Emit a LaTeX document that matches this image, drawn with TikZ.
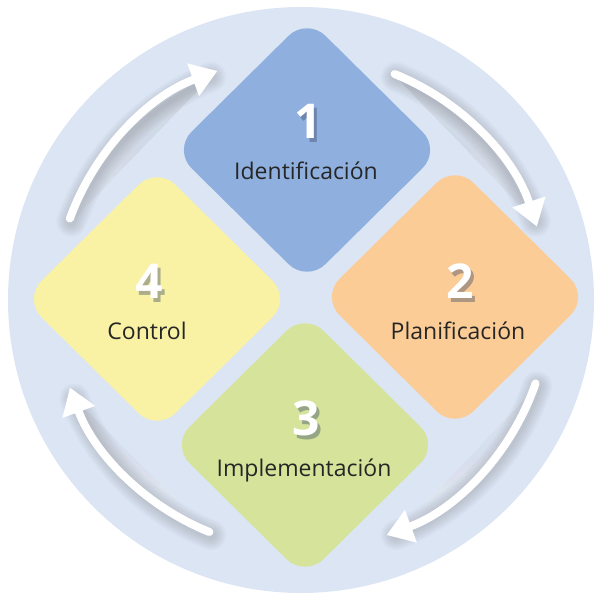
\documentclass[tikz,border=0pt]{standalone}
\usepackage{fontspec}
\setmainfont{Open Sans}
\usepackage{xcolor}
\usetikzlibrary{arrows.meta,shapes.geometric}

\definecolor{ringblue}{RGB}{220,229,243}
\definecolor{stepblue}{RGB}{143,176,222}
\definecolor{steporange}{RGB}{251,204,150}
\definecolor{stepgreen}{RGB}{214,228,155}
\definecolor{stepyellow}{RGB}{249,242,165}
\definecolor{shade}{RGB}{55,70,100}

% white digit with a dark shadow behind it
\newcommand\shadednum[2]{%
    \makebox[0pt][l]{\hspace{3.5pt}\raisebox{-4pt}{\textcolor{#2!60!shade}{#1}}}%
    #1}

\tikzset{
    stepshape/.style={diamond, minimum width=268pt, minimum height=265pt, inner sep=0pt, rounded corners=26pt, fill=#1},
    numtext/.style={text=white, anchor=base, font=\fontsize{48}{50}\selectfont\bfseries},
    labtext/.style={text=black!85, anchor=base, font=\fontsize{23}{27}\selectfont},
    cyclearrow/.style={white, line width=8pt, line cap=round, -{Triangle[length=26pt,width=33pt]}},
    arrowshade/.style={shade, opacity=0.025, line cap=round}
}

\begin{document}
\begin{tikzpicture}[x=1pt,y=-1pt]
    \useasboundingbox (0,0) rectangle (594,601);

    % background disc
    \fill[ringblue] (301,300) circle (293pt);
    \coordinate (c) at (302,303);

    % soft shadows under the cycle arrows
    \foreach \a/\b in {160/112, 68/20, -19/-68, -112/-158} {
        \foreach \w in {30,26,22,18,14,10}
            \draw[arrowshade, line width=\w pt] ([shift={(1.5pt,-3pt)}]c) ++(\a:247pt) arc[start angle=\a, end angle=\b, radius=247pt];
    }

    % cycle arrows
    \foreach \a/\b in {160/110, 68/18, -19/-70, -112/-160}
        \draw[cyclearrow] (c) ++(\a:247pt) arc[start angle=\a, end angle=\b, radius=247pt];

    % the four steps
    \foreach \n/\x/\y/\col in {1/307/150/stepblue, 2/455/297/steporange, 3/305/445/stepgreen, 4/157/299/stepyellow}
        \node[stepshape=\col] (d\n) at (\x,\y) {};

    % numbers and labels
    \foreach \n/\x/\y/\col/\lab in {1/308/139/stepblue/Identificación, 2/460/298/steporange/Planificación, 3/306/435/stepgreen/Implementación, 4/149/298/stepyellow/Control} {
        \node[numtext] (n\n) at (\x,\y) {\shadednum{\n}{\col}};
        \node[labtext] (l\n) at (\x-2,\y+41) {\lab};
    }
\end{tikzpicture}
\end{document}
